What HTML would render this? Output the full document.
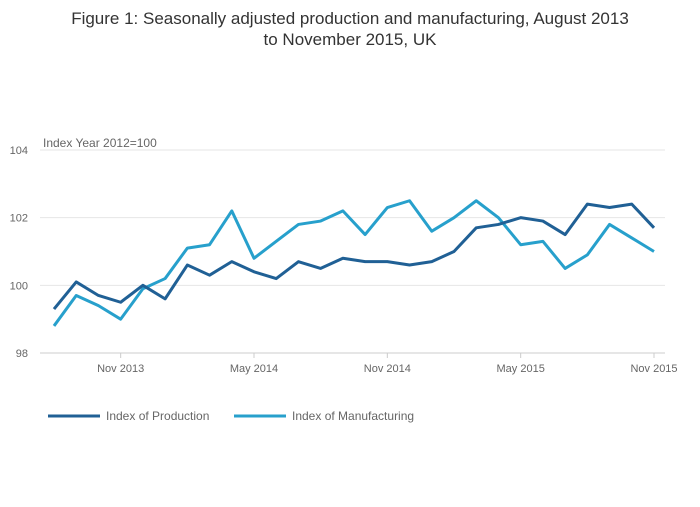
<!DOCTYPE html>
<html><head><meta charset="utf-8"><style>
body{margin:0;background:#fff;font-family:"Liberation Sans",sans-serif;}
svg text{font-family:"Liberation Sans",sans-serif;}
</style></head><body>
<svg width="700" height="502">
<text x="350" y="24" text-anchor="middle" font-size="17" fill="#333">Figure 1: Seasonally adjusted production and manufacturing, August 2013</text>
<text x="350" y="45" text-anchor="middle" font-size="17" fill="#333">to November 2015, UK</text>
<text x="43" y="147" font-size="12" fill="#666">Index Year 2012=100</text>
<g id="grid"></g><g id="series"></g>
<g>
<line x1="48" y1="416" x2="100" y2="416" stroke="#206095" stroke-width="3"/>
<text x="106" y="420" font-size="12" fill="#666">Index of Production</text>
<line x1="234" y1="416" x2="286" y2="416" stroke="#27a0cc" stroke-width="3"/>
<text x="292" y="420" font-size="12" fill="#666">Index of Manufacturing</text>
</g>
</svg>
<script>
const months=["Aug 2013","Sep 2013","Oct 2013","Nov 2013","Dec 2013","Jan 2014","Feb 2014","Mar 2014","Apr 2014","May 2014","Jun 2014","Jul 2014","Aug 2014","Sep 2014","Oct 2014","Nov 2014","Dec 2014","Jan 2015","Feb 2015","Mar 2015","Apr 2015","May 2015","Jun 2015","Jul 2015","Aug 2015","Sep 2015","Oct 2015","Nov 2015"];
const production=[99.3,100.1,99.7,99.5,100.0,99.6,100.6,100.3,100.7,100.4,100.2,100.7,100.5,100.8,100.7,100.7,100.6,100.7,101.0,101.7,101.8,102.0,101.9,101.5,102.4,102.3,102.4,101.7];
const manufacturing=[98.8,99.7,99.4,99.0,99.9,100.2,101.1,101.2,102.2,100.8,101.3,101.8,101.9,102.2,101.5,102.3,102.5,101.6,102.0,102.5,102.0,101.2,101.3,100.5,100.9,101.8,101.4,101.0];
const yTicks=[98,100,102,104];
const xTickIdx=[3,9,15,21,27];
const xTickLabels=["Nov 2013","May 2014","Nov 2014","May 2015","Nov 2015"];
const NS="http://www.w3.org/2000/svg";
const x=i=>54+i*(600/(months.length-1));
const y=v=>353-(v-98)*(203/6);
const grid=document.getElementById('grid'),ser=document.getElementById('series');
function mk(tag,attrs,parent){const e=document.createElementNS(NS,tag);for(const k in attrs)e.setAttribute(k,attrs[k]);parent.appendChild(e);return e;}
yTicks.forEach(t=>{
 const l=mk('line',{x1:40,x2:665,y1:y(t),y2:y(t),stroke:t===98?'#ccc':'#e6e6e6','stroke-width':1},grid);
 
 
 const tx=mk('text',{x:28,y:y(t)+4,'text-anchor':'end','font-size':11,fill:'#666'},grid);tx.textContent=t;
 
 
});
xTickIdx.forEach((i,k)=>{
 const l=mk('line',{x1:x(i),x2:x(i),y1:353,y2:358,stroke:'#ccc'},grid);
 
 
 const tx=mk('text',{x:x(i),y:372,'text-anchor':'middle','font-size':11,fill:'#666'},grid);tx.textContent=xTickLabels[k];
 
 
});
function line(vals,color,name){
 const p=mk('polyline',{points:vals.map((v,i)=>x(i)+','+y(v)).join(' '),fill:'none',stroke:color,'stroke-width':3,'stroke-linejoin':'round'},ser);
 
 
}
line(manufacturing,'#27a0cc','manufacturing-line');
line(production,'#206095','production-line');
</script>
</body></html>
